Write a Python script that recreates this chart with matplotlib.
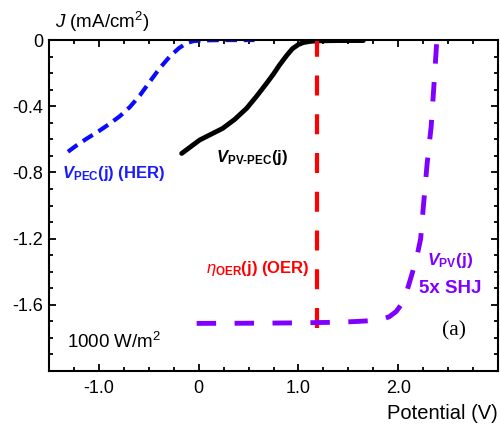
import matplotlib
matplotlib.use('Agg')
import matplotlib.pyplot as plt
from matplotlib.ticker import MultipleLocator, FixedLocator, FixedFormatter

plt.rcParams['font.family'] = ['Liberation Sans', 'DejaVu Sans']
plt.rcParams['axes.unicode_minus'] = False
plt.rcParams['mathtext.fontset'] = 'custom'
plt.rcParams['mathtext.rm'] = 'Liberation Sans'
plt.rcParams['mathtext.it'] = 'Liberation Sans:italic'
plt.rcParams['mathtext.bf'] = 'Liberation Sans:bold'
plt.rcParams['mathtext.bfit'] = 'Liberation Sans:bold:italic'

# ---------- data ----------
her_v = [-1.31, -1.22, -1.12, -1.00, -0.89, -0.79, -0.69, -0.59, -0.49, -0.39,
         -0.29, -0.20, -0.12, -0.05, 0.05, 0.25, 0.45, 0.56]
her_j = [-0.675, -0.635, -0.595, -0.55, -0.505, -0.46, -0.405, -0.335, -0.252, -0.17,
         -0.10, -0.05, -0.018, -0.006, -0.002, 0.0, 0.0, 0.0]

pvpec_v = [-0.17, 0.01, 0.24, 0.36, 0.48, 0.58, 0.68, 0.75, 0.81, 0.88,
           0.94, 1.00, 1.05, 1.12, 1.18, 1.40, 1.65]
pvpec_j = [-0.685, -0.604, -0.534, -0.48, -0.413, -0.34, -0.262, -0.205, -0.151, -0.095,
           -0.052, -0.027, -0.015, -0.008, -0.005, -0.003, -0.003]

oer_v = [1.19, 1.19]
oer_j = [-1.74, 0.0]

pv_v = [-0.02, 0.5, 1.0, 1.4, 1.6, 1.74, 1.83, 1.91, 1.98, 2.04,
        2.09, 2.14, 2.19, 2.225, 2.25, 2.29, 2.33, 2.355, 2.385]
pv_j = [-1.712, -1.711, -1.709, -1.705, -1.70, -1.695, -1.688, -1.672, -1.64, -1.591,
        -1.51, -1.41, -1.30, -1.20, -1.02, -0.745, -0.524, -0.30, -0.02]

xticks = [-1.0, 0.0, 1.0, 2.0]
xticklabels = ['-1.0', '0', '1.0', '2.0']
yticks = [0.0, -0.4, -0.8, -1.2, -1.6]
yticklabels = ['0', '-0.4', '-0.8', '-1.2', '-1.6']

# ---------- figure ----------
fig = plt.figure(figsize=(5.0, 4.26), dpi=100)
ax = fig.add_axes([0.098, 0.129, 0.898, 0.777])

ax.plot(her_v, her_j, color='#0a0aff', lw=3, dashes=(2.8, 1.6))
ax.plot(pvpec_v, pvpec_j, color='black', lw=3.5, solid_capstyle='round')
ax.plot(oer_v, oer_j, color='#ff0000', lw=3, dashes=(4.8, 4.5))
ax.plot(pv_v, pv_j, color='#8000ff', lw=3.5, dashes=(4.0, 3.8))

ax.set_xlim(-1.5, 3.0)
ax.set_ylim(-2.0, 0.0)

ax.xaxis.set_major_locator(FixedLocator(xticks))
ax.xaxis.set_major_formatter(FixedFormatter(xticklabels))
ax.xaxis.set_minor_locator(MultipleLocator(0.25))
ax.yaxis.set_major_locator(FixedLocator(yticks))
ax.yaxis.set_major_formatter(FixedFormatter(yticklabels))
ax.yaxis.set_minor_locator(MultipleLocator(0.1))

ax.tick_params(which='both', direction='in', top=True, right=True, width=1.3, labelsize=13)
ax.tick_params(which='major', length=5)
ax.tick_params(which='minor', length=3.2)
ax.tick_params(axis='x', pad=6.5)
ax.tick_params(axis='y', pad=4)
for sp in ax.spines.values():
    sp.set_linewidth(1.5)

# axis labels
fig.text(55 / 500, 1 - 28 / 426, '$\\mathit{J}$ (mA/cm$^2$)', fontsize=13.5, va='baseline')
fig.text(0.996, 1 - 419 / 426, 'Potential (V)', fontsize=14.5, ha='right', va='baseline')

# curve labels
ax.text(-1.373, -0.834, '$\\mathbfit{V}_{\\mathbf{PEC}}$(j) (HER)', color='#1a1aff',
        fontsize=12, fontweight='bold', va='baseline')
ax.text(0.177, -0.735, '$\\mathbfit{V}_{\\mathbf{PV\u2010PEC}}$(j)', color='black',
        fontsize=12, fontweight='bold', va='baseline')
ax.text(0.077, -1.408, '$\\eta_{\\mathbf{OER}}$(j) (OER)', color='#ff0000',
        fontsize=12, fontweight='bold', va='baseline')
ax.text(2.29, -1.36, '$\\mathbfit{V}_{\\mathbf{PV}}$(j)', color='#8000ff',
        fontsize=12.5, fontweight='bold', va='baseline')
ax.text(2.21, -1.529, '5x SHJ', color='#8000ff',
        fontsize=13.5, fontweight='bold', va='baseline')
ax.text(2.44, -1.785, '(a)', family='Liberation Serif', fontsize=15.5, va='baseline')
ax.text(-1.32, -1.863, '1000 W/m$^2$', fontsize=13.5, va='baseline')

fig.savefig('out.png', dpi=100)
